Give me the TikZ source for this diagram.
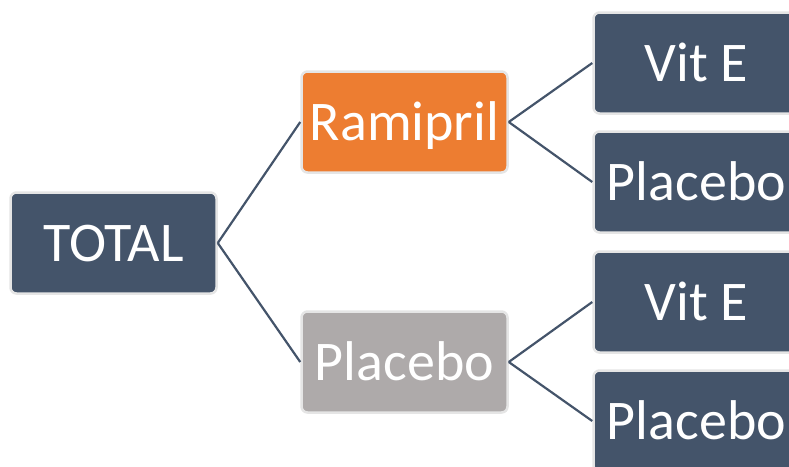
\documentclass[tikz,border=0pt]{standalone}
\usepackage{fontspec}
\setmainfont{Carlito}
\definecolor{slate}{HTML}{44546A}
\definecolor{ramiorange}{HTML}{ED7D31}
\definecolor{placgrey}{HTML}{AEAAAA}

\begin{document}
\begin{tikzpicture}[x=1pt,y=-1pt,
		box/.style={draw=black!10,line width=2.5pt,rounded corners=6pt,
			minimum width=206pt,minimum height=101pt,text=white,
			text height=36pt,text depth=0pt,font=\fontsize{56}{60}\selectfont},
		link/.style={draw=slate,line width=2.2pt}]
		\useasboundingbox (0,0) rectangle (789,466);
		\clip (0,0) rectangle (789,466);
		
		% first level boxes
		\node[box,fill=slate] (total) at (113.5,243) {TOTAL};
		\node[box,fill=ramiorange] (rami) at (404.5,122) {Ramipril};
		\node[box,fill=placgrey] (plac) at (404.5,362) {Placebo};
		
		% second level boxes, cut off by the right edge
		\foreach \mynode/\myy/\mytext in {vitA/63/Vit E,placA/182/Placebo,vitB/302/Vit E,placB/421/Placebo} {
			\node[box,fill=slate] (\mynode) at (696.5,\myy) {\mytext};
		}
		
		% connectors between the boxes
		\foreach \a/\b in {total/rami,total/plac,rami/vitA,rami/placA,plac/vitB,plac/placB} {
			\draw[link] (\a.east) -- (\b.west);
		}
\end{tikzpicture}
\end{document}
